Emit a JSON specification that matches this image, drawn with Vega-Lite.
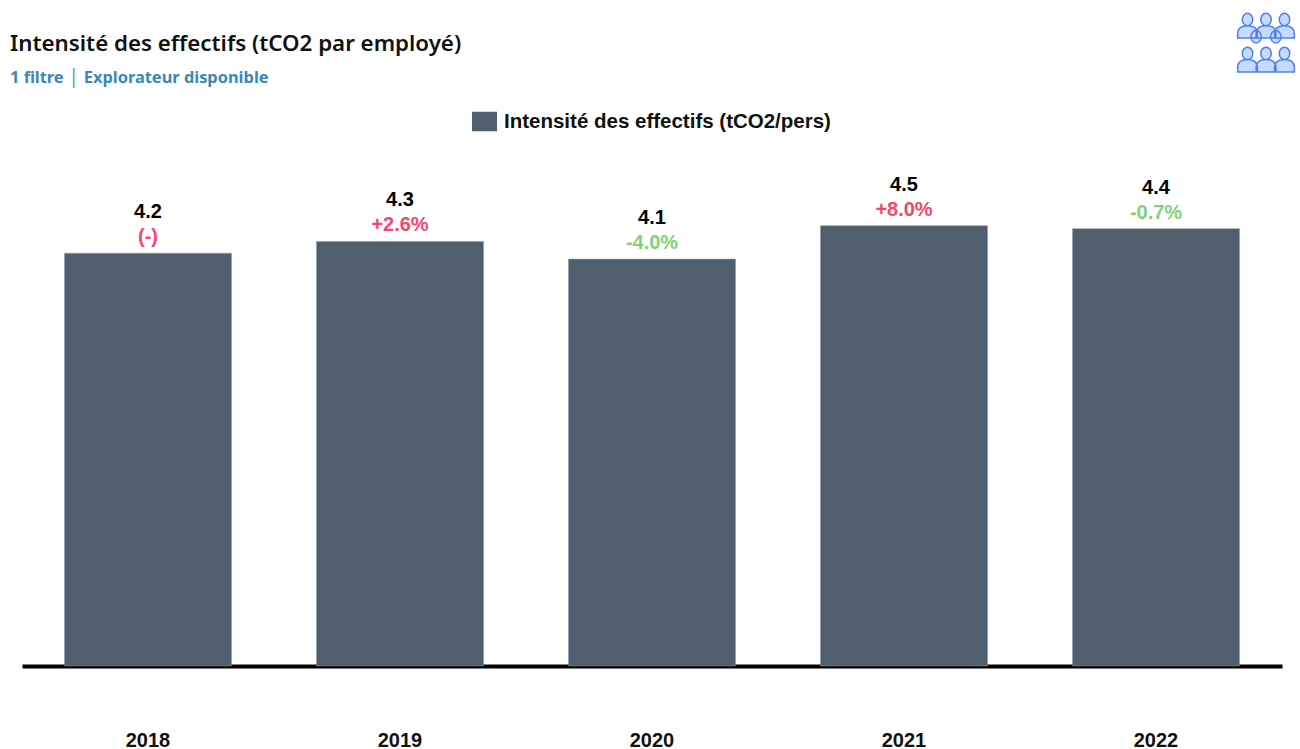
{
"$schema":"https://vega.github.io/schema/vega-lite/v6.json",
"width":1260,"height":516,
"autosize":{"type":"none"},
"padding":{"left":22,"top":150,"right":18,"bottom":83},
"background":"white",
"title":{"text":"Intensité des effectifs (tCO2 par employé)","subtitle":"1 filtre │ Explorateur disponible","anchor":"start","frame":"group","dx":-12,"offset":-76,"font":"Noto Sans","fontSize":22.3,"fontWeight":600,"color":"#111111","subtitleFont":"Noto Sans","subtitleFontSize":16.4,"subtitleFontWeight":700,"subtitleColor":"#3c87ba","subtitlePadding":14},
"config":{"view":{"stroke":null},"font":"Liberation Sans"},
"datasets":{"d":[
{"annee":"2018","valeur":4.2,"libelle":"4.2","variation":"(-)","tendance":"hausse","serie":"Intensité des effectifs (tCO2/pers)"},
{"annee":"2019","valeur":4.32,"libelle":"4.3","variation":"+2.6%","tendance":"hausse","serie":"Intensité des effectifs (tCO2/pers)"},
{"annee":"2020","valeur":4.14,"libelle":"4.1","variation":"-4.0%","tendance":"baisse","serie":"Intensité des effectifs (tCO2/pers)"},
{"annee":"2021","valeur":4.48,"libelle":"4.5","variation":"+8.0%","tendance":"hausse","serie":"Intensité des effectifs (tCO2/pers)"},
{"annee":"2022","valeur":4.45,"libelle":"4.4","variation":"-0.7%","tendance":"baisse","serie":"Intensité des effectifs (tCO2/pers)"}
]},
"data":{"name":"d"},
"encoding":{
"x":{"field":"annee","type":"nominal","sort":null,"scale":{"paddingInner":0.337,"paddingOuter":0.1685},
"axis":{"title":null,"labelAngle":0,"ticks":false,"domainColor":"#000000","domainWidth":4,"labelFont":"Liberation Sans","labelFontSize":20,"labelFontWeight":"bold","labelColor":"#111111","labelPadding":64}},
"y":{"field":"valeur","type":"quantitative","scale":{"domain":[0,5.25],"nice":false},"axis":null}
},
"layer":[
{"mark":{"type":"bar","stroke":"#8d98a3","strokeWidth":0.5},
"encoding":{"color":{"field":"serie","type":"nominal","scale":{"range":["#505f6e"]},
"legend":{"title":null,"orient":"none","legendX":450,"legendY":-41,"symbolType":"M-1 -0.78H1V0.78H-1Z","symbolSize":625,"symbolStrokeWidth":0,"labelFont":"Liberation Sans","labelFontSize":20.5,"labelFontWeight":"bold","labelColor":"#111111","labelLimit":500,"labelOffset":7}}}},
{"mark":{"type":"text","dy":-41,"font":"Liberation Sans","fontSize":20,"fontWeight":"bold","color":"#000000"},
"encoding":{"text":{"field":"libelle"}}},
{"mark":{"type":"text","dy":-16,"font":"Liberation Sans","fontSize":20,"fontWeight":"bold"},
"encoding":{"text":{"field":"variation"},
"fill":{"field":"tendance","type":"nominal","scale":{"domain":["hausse","baisse"],"range":["#f4476c","#7fd37c"]},"legend":null}}},
{"data":{"values":[{"icone":"effectifs"}]},
"mark":{"type":"point","opacity":0,"filled":false,"fill":"#c6dcff","stroke":"#4f7df2","strokeWidth":2},
"encoding":{"x":{"value":0},"y":{"value":0},
"shape":{"field":"icone","type":"nominal","scale":{"range":["M-0.77 -0.73a0.17 0.2 0 1 1 0.34 0a0.17 0.2 0 1 1 -0.34 0ZM-0.92 -0.13v-0.14q0 -0.26 0.32 -0.26q0.32 0 0.32 0.26v0.14ZM-0.17 -0.73a0.17 0.2 0 1 1 0.34 0a0.17 0.2 0 1 1 -0.34 0ZM-0.32 -0.13v-0.14q0 -0.26 0.32 -0.26q0.32 0 0.32 0.26v0.14ZM0.43 -0.73a0.17 0.2 0 1 1 0.34 0a0.17 0.2 0 1 1 -0.34 0ZM0.28 -0.13v-0.14q0 -0.26 0.32 -0.26q0.32 0 0.32 0.26v0.14ZM-0.49 -0.17a0.17 0.2 0 1 1 0.34 0a0.17 0.2 0 1 1 -0.34 0ZM0.15 -0.17a0.17 0.2 0 1 1 0.34 0a0.17 0.2 0 1 1 -0.34 0ZM-0.77 0.37a0.17 0.2 0 1 1 0.34 0a0.17 0.2 0 1 1 -0.34 0ZM-0.92 0.97v-0.14q0 -0.26 0.32 -0.26q0.32 0 0.32 0.26v0.14ZM-0.17 0.37a0.17 0.2 0 1 1 0.34 0a0.17 0.2 0 1 1 -0.34 0ZM-0.32 0.97v-0.14q0 -0.26 0.32 -0.26q0.32 0 0.32 0.26v0.14ZM0.43 0.37a0.17 0.2 0 1 1 0.34 0a0.17 0.2 0 1 1 -0.34 0ZM0.28 0.97v-0.14q0 -0.26 0.32 -0.26q0.32 0 0.32 0.26v0.14Z"]},
"legend":{"title":null,"orient":"none","legendX":1212,"legendY":-140,"symbolSize":3800,"symbolFillColor":"#c6dcff","symbolOpacity":1,"labelExpr":"''","labelFontSize":1,"labelOffset":0,"encode":{"symbols":{"update":{"stroke":{"value":"#4f7df2"},"strokeWidth":{"value":2},"strokeOpacity":{"value":1},"fill":{"value":"#c6dcff"},"opacity":{"value":1}}}}}}}}
],
"resolve":{"scale":{"color":"independent","fill":"independent"}}
}
